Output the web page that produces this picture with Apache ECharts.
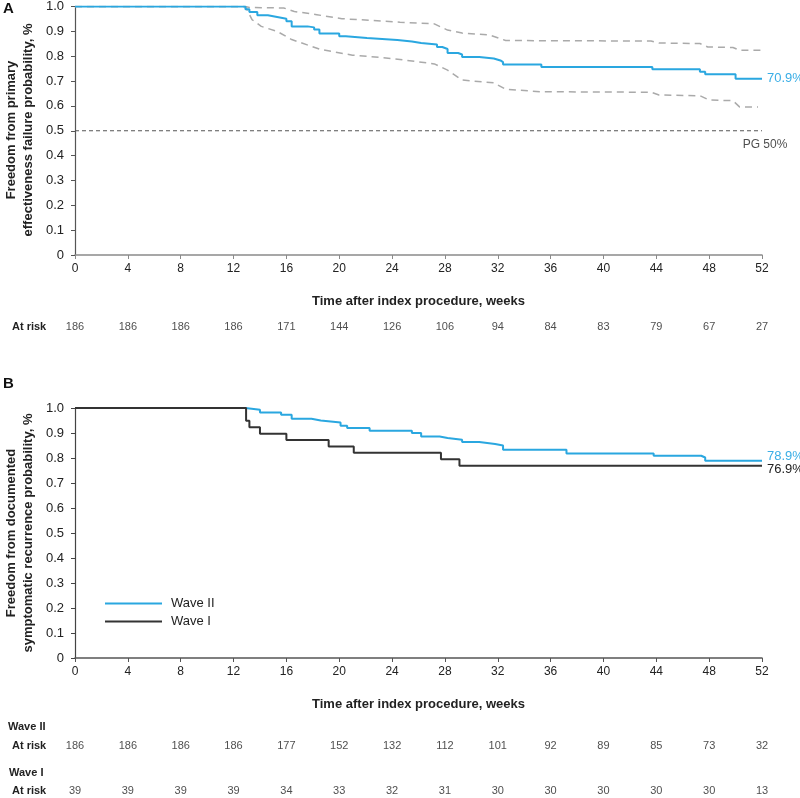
<!DOCTYPE html>
<html>
<head>
<meta charset="utf-8">
<script src="https://cdn.jsdelivr.net/npm/echarts@6/dist/echarts.min.js"></script>
<style>
html,body{margin:0;padding:0;background:#fff;}
#chart{width:800px;height:798px;}
</style>
</head>
<body>
<div id="chart"></div>
<script>
// ---------- data ----------
const xTicks = [0,4,8,12,16,20,24,28,32,36,40,44,48,52];
const yTicks = [0,0.1,0.2,0.3,0.4,0.5,0.6,0.7,0.8,0.9,1.0];

// Panel A: Kaplan-Meier estimate (weeks, survival)
const kmA_weeks = [0,12.9,13.2,13.8,14.6,15.4,16.0,16.4,17.6,18.1,18.5,20.0,20.5,22.1,24.4,25.5,26.2,27.4,27.8,28.2,29.0,29.3,30.6,31.7,32.2,32.4,35.3,43.7,47.3,47.7,50.0,52];
const kmA_surv  = [1,0.989,0.978,0.965,0.957,0.951,0.941,0.920,0.916,0.907,0.891,0.880,0.873,0.865,0.859,0.853,0.847,0.837,0.829,0.813,0.807,0.797,0.791,0.783,0.776,0.767,0.757,0.747,0.737,0.727,0.709,0.709];
// Panel A: upper confidence limit
const ciUp_weeks = [0,12.9,13.2,15.8,16.6,18.3,20.2,22.5,24.6,27.2,28.2,29.3,31.4,32.6,43.6,44.2,47.3,47.9,49.8,50.3,52];
const ciUp_vals  = [1,1,0.996,0.994,0.980,0.967,0.951,0.944,0.937,0.930,0.905,0.893,0.885,0.863,0.861,0.853,0.851,0.837,0.835,0.824,0.824];
// Panel A: lower confidence limit
const ciLo_weeks = [0,12.9,13.4,14.1,15.3,16.4,18.6,21.0,23.0,24.6,27.2,28.2,29.3,31.7,32.6,35.3,43.6,44.2,47.3,48.0,49.8,50.3,51.7];
const ciLo_vals  = [1,1,0.947,0.920,0.900,0.867,0.827,0.804,0.796,0.787,0.769,0.744,0.704,0.693,0.667,0.657,0.655,0.644,0.641,0.624,0.621,0.596,0.596];
const pgValue = 0.5;

// Panel B: Wave II
const w2_weeks = [0,12.9,13.0,14.0,15.6,16.4,17.9,18.6,20.1,20.6,22.3,25.5,26.2,27.6,28.2,29.3,30.6,31.8,32.4,37.2,43.8,47.4,47.7,52];
const w2_surv  = [1,1,0.993,0.982,0.973,0.957,0.950,0.942,0.929,0.920,0.909,0.900,0.886,0.880,0.873,0.864,0.856,0.850,0.833,0.818,0.809,0.802,0.789,0.789];
// Panel B: Wave I
const w1_weeks = [0,12.95,13.2,14.0,16.0,19.2,21.1,27.7,29.1,52];
const w1_surv  = [1,0.949,0.923,0.897,0.872,0.846,0.821,0.795,0.769,0.769];

// At-risk numbers
const riskA  = [186,186,186,186,171,144,126,106,94,84,83,79,67,27];
const riskW2 = [186,186,186,186,177,152,132,112,101,92,89,85,73,32];
const riskW1 = [39,39,39,39,34,33,32,31,30,30,30,30,30,13];

const labelA = '70.9%', labelW2 = '78.9%', labelW1 = '76.9%', labelPG = 'PG 50%';

// ---------- chart ----------
const FONT = '"Liberation Sans", Arial, Helvetica, sans-serif';
const BLUE = '#2aa7e0';
const zip = (a,b) => a.map((v,i)=>[v,b[i]]);

const GL = 75, GR = 38;
function plotX(grid, axisColor, name){
  return {
    type:'value', gridIndex:grid, min:0, max:52, interval:4,
    name:name, nameLocation:'middle', nameGap:40,
    nameTextStyle:{fontFamily:FONT,fontWeight:'bold',fontSize:13,color:'#222'},
    axisLine:{show:true,lineStyle:{color:axisColor,width:1.5}},
    axisTick:{show:true,length:4,lineStyle:{color:axisColor}},
    axisLabel:{fontFamily:FONT,fontSize:12,color:'#222',margin:8},
    splitLine:{show:false}
  };
}
function plotY(grid, axisColor){
  return {
    type:'value', gridIndex:grid, min:0, max:1, interval:0.1, offset:3,
    axisLine:{show:true,lineStyle:{color:axisColor,width:1.2}},
    axisTick:{show:true,length:4,lineStyle:{color:axisColor}},
    axisLabel:{fontFamily:FONT,fontSize:13,color:'#222',margin:8,
      formatter:v=> (Math.abs(v)<1e-9?'0':v.toFixed(1))},
    splitLine:{show:false}
  };
}
function hiddenX(grid){return {type:'value',gridIndex:grid,min:0,max:52,show:false};}
function hiddenY(grid){return {type:'value',gridIndex:grid,min:0,max:1,show:false};}
function riskSeries(grid, vals){
  return {
    type:'scatter', xAxisIndex:grid, yAxisIndex:grid, silent:true,
    symbol:'circle', symbolSize:1, itemStyle:{color:'rgba(0,0,0,0)'},
    data: xTicks.map((t,i)=>[t,0.5,vals[i]]),
    label:{show:true,position:'inside',formatter:p=>String(p.value[2]),
      fontFamily:FONT,fontSize:11,color:'#222'}
  };
}

const option = {
  animation:false,
  backgroundColor:'#fff',
  grid:[
    {left:GL,right:GR,top:5,height:250},
    {left:GL,right:GR,top:320,height:14},
    {left:GL,right:GR,top:408,height:250},
    {left:GL,right:GR,top:739,height:14},
    {left:GL,right:GR,top:784,height:14}
  ],
  xAxis:[
    plotX(0,'#8a8a8a','Time after index procedure, weeks'),
    hiddenX(1),
    plotX(2,'#555','Time after index procedure, weeks'),
    hiddenX(3),
    hiddenX(4)
  ],
  yAxis:[plotY(0,'#555'),hiddenY(1),plotY(2,'#444'),hiddenY(3),hiddenY(4)],
  legend:{
    data:['Wave II','Wave I'], orient:'vertical', left:100, top:592,
    icon:'rect', itemWidth:57, itemHeight:2, itemGap:5,
    textStyle:{fontFamily:FONT,fontSize:13,color:'#222',padding:[0,0,0,4]}
  },
  graphic:[
    {type:'text',left:3,top:1,style:{text:'A',font:'bold 15px '+FONT,fill:'#111'}},
    {type:'text',left:3,top:376,style:{text:'B',font:'bold 15px '+FONT,fill:'#111'}},
    {type:'text',x:20,y:130,rotation:Math.PI/2,
      style:{text:'Freedom from primary\neffectiveness failure probability, %',
        textAlign:'center',textVerticalAlign:'middle',font:'bold 13px '+FONT,lineHeight:17,fill:'#222'}},
    {type:'text',x:20,y:533,rotation:Math.PI/2,
      style:{text:'Freedom from documented\nsymptomatic recurrence probability, %',
        textAlign:'center',textVerticalAlign:'middle',font:'bold 13px '+FONT,lineHeight:17,fill:'#222'}},
    {type:'text',left:12,top:321,style:{text:'At risk',font:'bold 11px '+FONT,fill:'#222'}},
    {type:'text',left:8,top:721,style:{text:'Wave II',font:'bold 11px '+FONT,fill:'#222'}},
    {type:'text',left:12,top:740,style:{text:'At risk',font:'bold 11px '+FONT,fill:'#222'}},
    {type:'text',left:9,top:767,style:{text:'Wave I',font:'bold 11px '+FONT,fill:'#222'}},
    {type:'text',left:12,top:785,style:{text:'At risk',font:'bold 11px '+FONT,fill:'#222'}}
  ],
  series:[
    {name:'Upper CI',type:'line',xAxisIndex:0,yAxisIndex:0,showSymbol:false,symbol:'none',
      data:zip(ciUp_weeks,ciUp_vals),lineStyle:{color:'#aaaaaa',width:1.5,type:[7,5]},z:2},
    {name:'Lower CI',type:'line',xAxisIndex:0,yAxisIndex:0,showSymbol:false,symbol:'none',
      data:zip(ciLo_weeks,ciLo_vals),lineStyle:{color:'#aaaaaa',width:1.5,type:[7,5]},z:2},
    {name:'PG',type:'line',xAxisIndex:0,yAxisIndex:0,showSymbol:false,symbol:'none',
      data:[[0,pgValue],[52,pgValue]],lineStyle:{color:'#555',width:1,type:[4,3]},z:2},
    {name:'PG label',type:'scatter',xAxisIndex:0,yAxisIndex:0,silent:true,symbolSize:1,
      itemStyle:{color:'rgba(0,0,0,0)'},data:[[52,pgValue]],
      label:{show:true,position:'bottom',distance:7,formatter:labelPG,fontFamily:FONT,fontSize:12,color:'#222',offset:[3,0]}},
    {name:'KM A',type:'line',step:'end',xAxisIndex:0,yAxisIndex:0,showSymbol:false,symbol:'none',
      data:zip(kmA_weeks,kmA_surv),lineStyle:{color:BLUE,width:2},z:3,
      endLabel:{show:true,formatter:labelA,color:'#3aaee6',fontFamily:FONT,fontSize:13,distance:5}},
    riskSeries(1,riskA),
    {name:'Wave II',type:'line',step:'end',xAxisIndex:2,yAxisIndex:2,showSymbol:false,symbol:'none',
      data:zip(w2_weeks,w2_surv),lineStyle:{color:BLUE,width:2},itemStyle:{color:BLUE},z:3,
      endLabel:{show:true,formatter:labelW2,color:'#3aaee6',fontFamily:FONT,fontSize:13,distance:5,offset:[0,-4]}},
    {name:'Wave I',type:'line',step:'end',xAxisIndex:2,yAxisIndex:2,showSymbol:false,symbol:'none',
      data:zip(w1_weeks,w1_surv),lineStyle:{color:'#333',width:2},itemStyle:{color:'#333'},z:3,
      endLabel:{show:true,formatter:labelW1,color:'#222',fontFamily:FONT,fontSize:13,distance:5,offset:[0,4]}},
    riskSeries(3,riskW2),
    riskSeries(4,riskW1)
  ]
};
const chart = echarts.init(document.getElementById('chart'),null,{renderer:'canvas'});
chart.setOption(option);
</script>
</body>
</html>
